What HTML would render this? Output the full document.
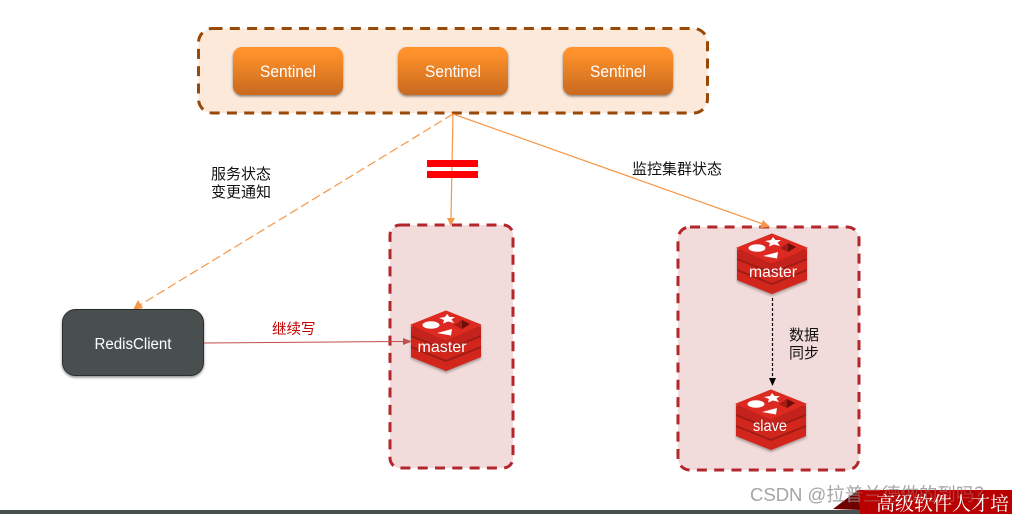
<!DOCTYPE html>
<html><head><meta charset="utf-8"><style>
html,body{margin:0;padding:0;background:#fff;width:1012px;height:514px;overflow:hidden}
svg{display:block}
text{font-family:"Liberation Sans","Noto Sans CJK SC",sans-serif}
</style></head><body>
<svg width="1012" height="514" viewBox="0 0 1012 514" xmlns="http://www.w3.org/2000/svg">
<defs>
<linearGradient id="o" x1="0" y1="0" x2="0" y2="1"><stop offset="0.1" stop-color="#ff922b"/><stop offset="1" stop-color="#c8691f"/></linearGradient>
<filter id="s" x="-10%" y="-10%" width="120%" height="125%"><feDropShadow dx="0" dy="1.5" stdDeviation="1.2" flood-color="#000" flood-opacity="0.45"/></filter>
<filter id="s2" x="-10%" y="-10%" width="120%" height="125%"><feDropShadow dx="0" dy="2" stdDeviation="1.2" flood-color="#000" flood-opacity="0.3"/></filter>
<g id="redis">
<g filter="url(#s2)">
<path d="M-35 16 L0 1 L35 16 V46 L0 60 L-35 46Z" fill="#9c1c13"/>
<path d="M-35 37 L0 51 L35 37 V46 L0 60 L-35 46Z" fill="#d2281d"/>
<path d="M-35 26 L0 40 L35 26 V35 L0 49 L-35 35Z" fill="#d2281d"/>
<path d="M-35 15 L0 29 L35 15 V24 L0 38 L-35 24Z" fill="#c4241a"/>
<path d="M-35 14 L0 0 L35 14 L0 29Z" fill="#dc2b20" stroke="#dc2b20" stroke-width="1" stroke-linejoin="round"/>
</g>
<ellipse cx="-15" cy="14" rx="8.500" ry="3.800" fill="#fff"/>
<path d="M1 3 L3.500 6 L9 6 L5.500 8.500 L8 12 L2 10.500 L-3 12.500 L-2 9 L-7 7 L-1 6Z" fill="#fff"/>
<path d="M-9 22 L6 18 L5 24.500Z" fill="#fff"/>
<path d="M8 14 L16 9 L24 13 L16 18Z" fill="#a31d14"/>
<path d="M16 9 L24 13 L16 18Z" fill="#6e0f0a"/>
</g>
</defs>

<!-- top container -->
<rect x="198.500" y="28.500" width="509" height="84.500" rx="14" fill="#fce9da" stroke="#984807" stroke-width="3" stroke-dasharray="10 7.300"/>
<g filter="url(#s)">
<rect x="233" y="47" width="110" height="48" rx="9" fill="url(#o)"/>
<rect x="398" y="47" width="110" height="48" rx="9" fill="url(#o)"/>
<rect x="563" y="47" width="110" height="48" rx="9" fill="url(#o)"/>
</g>
<g fill="#fff" font-size="16.500" text-anchor="middle">
<text x="288" y="77" textLength="56" lengthAdjust="spacingAndGlyphs">Sentinel</text>
<text x="453" y="77" textLength="56" lengthAdjust="spacingAndGlyphs">Sentinel</text>
<text x="618" y="77" textLength="56" lengthAdjust="spacingAndGlyphs">Sentinel</text>
</g>

<!-- pink containers -->
<rect x="390" y="225" width="123" height="243" rx="10" fill="#f2dcdb" stroke="#b3262c" stroke-width="3" stroke-dasharray="10 7.300"/>
<rect x="678" y="227" width="181" height="243" rx="12" fill="#f2dcdb" stroke="#b3262c" stroke-width="3" stroke-dasharray="10 7.300"/>

<!-- connectors -->
<g stroke="#f79646" fill="none" stroke-width="1.200">
<path d="M453 114 L451 219"/>
<path d="M453 114 L763 224"/>
<path d="M453 114 L140 305" stroke-dasharray="9 4"/>
</g>
<g fill="#f79646">
<path d="M450.800 226 L447 218 L455 218Z"/>
<path d="M770 227 L760 228 L763 220Z"/>
<path d="M133 310 L138 300 L143 308Z"/>
</g>
<rect x="427" y="160" width="51" height="7" fill="#f00"/>
<rect x="427" y="171" width="51" height="7" fill="#f00"/>

<!-- client -->
<rect x="62.500" y="309.500" width="141" height="66" rx="13" fill="#4a504f" stroke="#2a2e2d" stroke-width="1" filter="url(#s)"/>
<text x="133" y="349" fill="#fff" font-size="15.500" text-anchor="middle" textLength="77" lengthAdjust="spacingAndGlyphs">RedisClient</text>
<path d="M204 343 L404 341.500" stroke="#c0504d" stroke-width="1" fill="none"/>

<!-- redis icons -->
<use href="#redis" x="446" y="311"/>
<use href="#redis" x="772" y="234"/>
<use href="#redis" x="771" y="390"/>
<path d="M412 341.500 L403 338 L403 345Z" fill="#c0504d"/>
<g fill="#fff" font-size="16" text-anchor="middle">
<text x="442" y="352" textLength="49" lengthAdjust="spacingAndGlyphs">master</text>
<text x="773" y="277" textLength="48" lengthAdjust="spacingAndGlyphs">master</text>
<text x="770" y="431" textLength="34" lengthAdjust="spacingAndGlyphs">slave</text>
</g>

<!-- sync arrow -->
<path d="M772.500 298 L772.500 379" stroke="#000" stroke-width="1.200" stroke-dasharray="3 2" fill="none"/>
<path d="M772.500 386 L769 378 L776 378Z" fill="#000"/>

<!-- labels -->
<g font-size="15" fill="#111">
<text x="211" y="179">服务状态</text>
<text x="211" y="197">变更通知</text>
<text x="632" y="174">监控集群状态</text>
<text x="789" y="340">数据</text>
<text x="789" y="358">同步</text>
</g>
<text x="272" y="334" font-size="14.500" fill="#c00000">继续写</text>

<!-- footer -->
<rect x="0" y="510" width="860" height="4" fill="#4a504f"/>
<path d="M833 509 L858 490 L860 510Z" fill="#6e0000"/>
<text x="750" y="501" font-size="18.500" fill="#888" fill-opacity="0.75">CSDN @拉普兰德做的到吗？</text>
<path d="M858 490 H1012 V514 H860Z" fill="#b80000"/>
<text x="750" y="501" font-size="18.500" fill="#aaa" fill-opacity="0.35">CSDN @拉普兰德做的到吗？</text>
<text x="876" y="510" font-size="19" fill="#fff" style="font-family:'Noto Serif CJK SC',serif">高级软件人才培</text>
</svg>
</body></html>
